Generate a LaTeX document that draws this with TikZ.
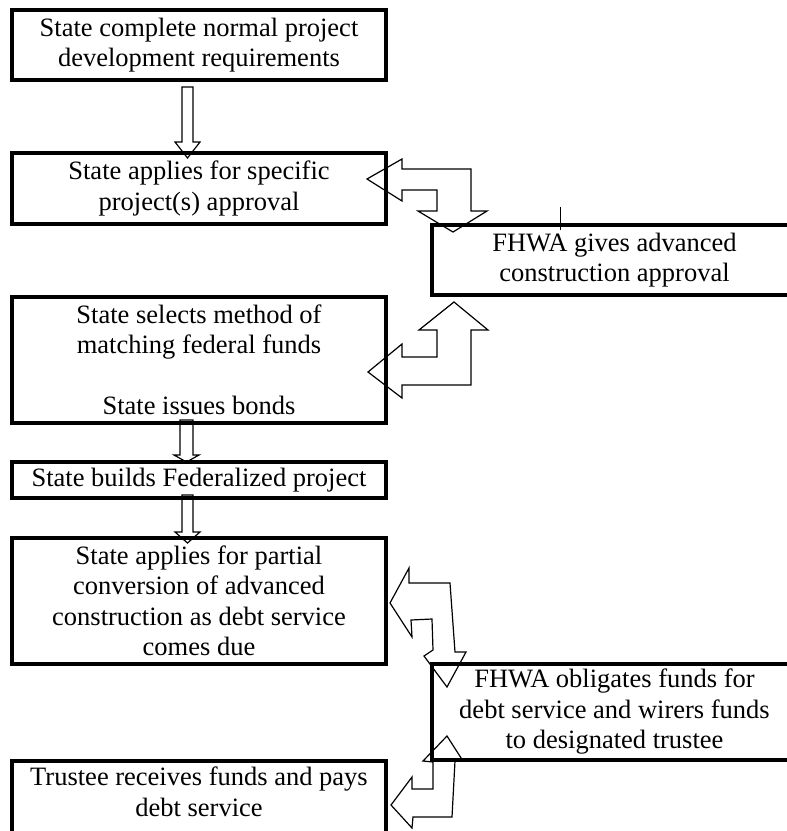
\documentclass[tikz,border=0pt]{standalone}
\usepackage{fontspec}
\setmainfont{Liberation Serif}
\tikzstyle{sbox}=[shape=rectangle,
                draw=black,
                line width=3.4pt,
                minimum width=374pt,
                inner sep=0pt,
                align=center,
                font=\fontsize{26.5pt}{30.5pt}\selectfont]
\tikzstyle{fbox}=[sbox,
                minimum width=365pt]
\tikzstyle{stext}=[inner sep=0pt,
                align=center,
                font=\fontsize{26.5pt}{30.5pt}\selectfont]
\tikzstyle{barrow}=[draw=black,
                line width=1.2pt,
                line join=miter]

\begin{document}
\begin{tikzpicture}[x=1pt,y=-1pt]
\useasboundingbox (0,0) rectangle (787,831);

% left column
\node[sbox,minimum height=70pt]  (b1) at (199,45)  {State complete normal project\\development requirements};
\node[sbox,minimum height=71pt]  (b2) at (199,188.5) {State applies for specific\\project(s) approval};
\node[sbox,minimum height=126pt] (b3) at (199,360) {State selects method of\\matching federal funds\\[30.5pt]State issues bonds};
\node[sbox,minimum height=36pt]  (b4) at (199,480) {State builds Federalized project};
\node[sbox,minimum height=126pt] (b5) at (199,601) {State applies for partial\\conversion of advanced\\construction as debt service\\comes due};
\node[sbox,minimum height=74pt]  (b6) at (199,798) {};
\node[stext] (b6t) at (199,792) {Trustee receives funds and pays\\debt service};

% right column
\node[fbox,minimum height=70pt] (f1) at (614.5,260) {FHWA gives advanced\\construction approval};
\node[fbox,minimum height=96pt] (f2) at (614.5,712) {FHWA obligates funds for\\debt service and wirers funds\\to designated trustee};

% straight arrows
\draw[barrow] (182,87) -- (193,87) -- (193,142) -- (200,142) -- (187.5,158)
              -- (175,142) -- (182,142) -- cycle;
\draw[barrow] (180,420) -- (193,420) -- (193,455) -- (199,455) -- (186.5,462)
              -- (174,455) -- (180,455) -- cycle;
\draw[barrow] (182,495) -- (193,495) -- (193,532) -- (200,532) -- (187.5,543)
              -- (175,532) -- (182,532) -- cycle;

% bent arrows
\draw[barrow] (367,179) -- (402,159) -- (402,169) -- (471,169) -- (471,211)
              -- (487,211) -- (453,232) -- (418,211) -- (437,211) -- (437,190)
              -- (402,190) -- (402,201) -- cycle;
\draw[barrow] (454,302) -- (488,330) -- (471,330) -- (471,385) -- (402,385)
              -- (402,398) -- (368,372) -- (402,344) -- (402,357) -- (437,357)
              -- (437,330) -- (419,330) -- cycle;
\draw[barrow] (390,603) -- (409,568) -- (409,583) -- (450,583) -- (455,652)
              -- (466,652) -- (447,687) -- (424,656) -- (433,650) -- (432,619)
              -- (411,620) -- (412,637) -- cycle;
\draw[barrow] (447,736) -- (463,761) -- (455,761) -- (452,817) -- (413,817)
              -- (412,828) -- (391,805) -- (412,777) -- (412,789) -- (433,789)
              -- (433,762) -- (423,761) -- cycle;

\draw[line width=1pt] (560,207) -- (560,230);
\end{tikzpicture}
\end{document}
